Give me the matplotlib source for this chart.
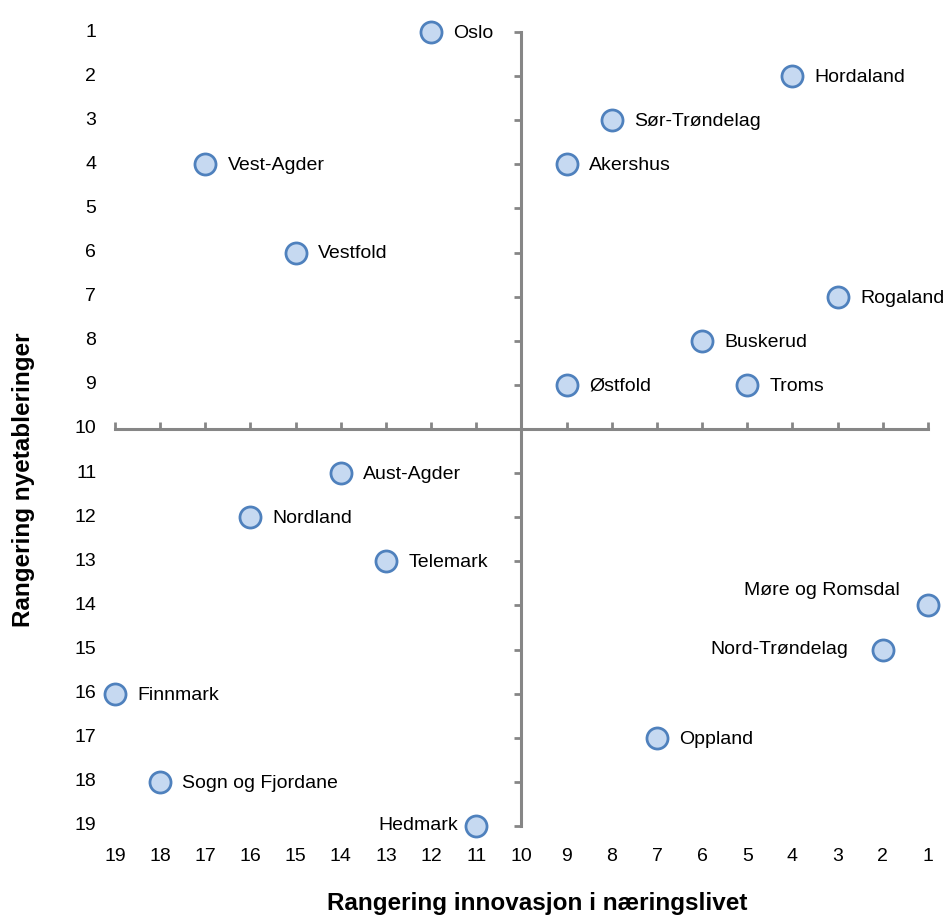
import matplotlib.pyplot as plt
import matplotlib.transforms as mtransforms

plt.rcParams['font.family'] = ['Liberation Sans', 'DejaVu Sans']

fylker = ['Oslo', 'Hordaland', 'Sør-Trøndelag', 'Vest-Agder', 'Akershus', 'Vestfold',
          'Rogaland', 'Buskerud', 'Østfold', 'Troms', 'Aust-Agder', 'Nordland',
          'Telemark', 'Møre og Romsdal', 'Nord-Trøndelag', 'Finnmark', 'Oppland',
          'Sogn og Fjordane', 'Hedmark']
innovasjon = [12, 4, 8, 17, 9, 15, 3, 6, 9, 5, 14, 16, 13, 1, 2, 19, 7, 18, 11]
nyetablering = [1, 2, 3, 4, 4, 6, 7, 8, 9, 9, 11, 12, 13, 14, 15, 16, 17, 18, 19]

# labels placed left of the point (offset in pixels)
venstre = {'Hedmark': (-18, 0), 'Møre og Romsdal': (-28, 15), 'Nord-Trøndelag': (-35, 0)}

ticks = list(range(1, 20))
grey = '#868686'

fig = plt.figure(figsize=(9.48, 9.15), dpi=100)
ax = fig.add_axes([0.1213, 0.0973, 0.8576, 0.8677])
ax.set_xlim(19, 1)
ax.set_ylim(19, 1)

for s in ['top', 'right']:
    ax.spines[s].set_visible(False)
ax.spines['left'].set_position(('data', 10))
ax.spines['bottom'].set_position(('data', 10))
for s in ['left', 'bottom']:
    ax.spines[s].set_color(grey)
    ax.spines[s].set_linewidth(2.2)
ax.set_xticks(ticks)
ax.set_yticks(ticks)
ax.tick_params(axis='x', direction='in', length=5, width=2, color=grey, labelbottom=False)
ax.tick_params(axis='y', direction='out', length=5, width=2, color=grey, labelleft=False)

ty = mtransforms.blended_transform_factory(ax.transAxes, ax.transData)
tx = mtransforms.blended_transform_factory(ax.transData, ax.transAxes)
for t in ticks:
    ax.text(-0.023, t, str(t), transform=ty, ha='right', va='center', fontsize=14)
    ax.text(t, -0.038, str(t), transform=tx, ha='center', va='center', fontsize=14)

ax.scatter(innovasjon, nyetablering, s=230, facecolor='#c6d9f1', edgecolor='#4f81bd',
           linewidth=2.0, zorder=5, clip_on=False)

for navn, x, y in zip(fylker, innovasjon, nyetablering):
    if navn in venstre:
        dx, dy = venstre[navn]
        ax.annotate(navn, (x, y), xytext=(dx * 0.72, dy * 0.72), textcoords='offset points',
                    ha='right', va='center', fontsize=14)
    else:
        ax.annotate(navn, (x, y), xytext=(16, -1), textcoords='offset points',
                    ha='left', va='center', fontsize=14)

fig.text(0.567, 0.013, 'Rangering innovasjon i næringslivet', ha='center', va='center',
         fontsize=17.5, fontweight='bold')
fig.text(0.025, 0.476, 'Rangering nyetableringer', ha='center', va='center',
         rotation=90, fontsize=17.5, fontweight='bold')

fig.savefig('out.png', dpi=100)
